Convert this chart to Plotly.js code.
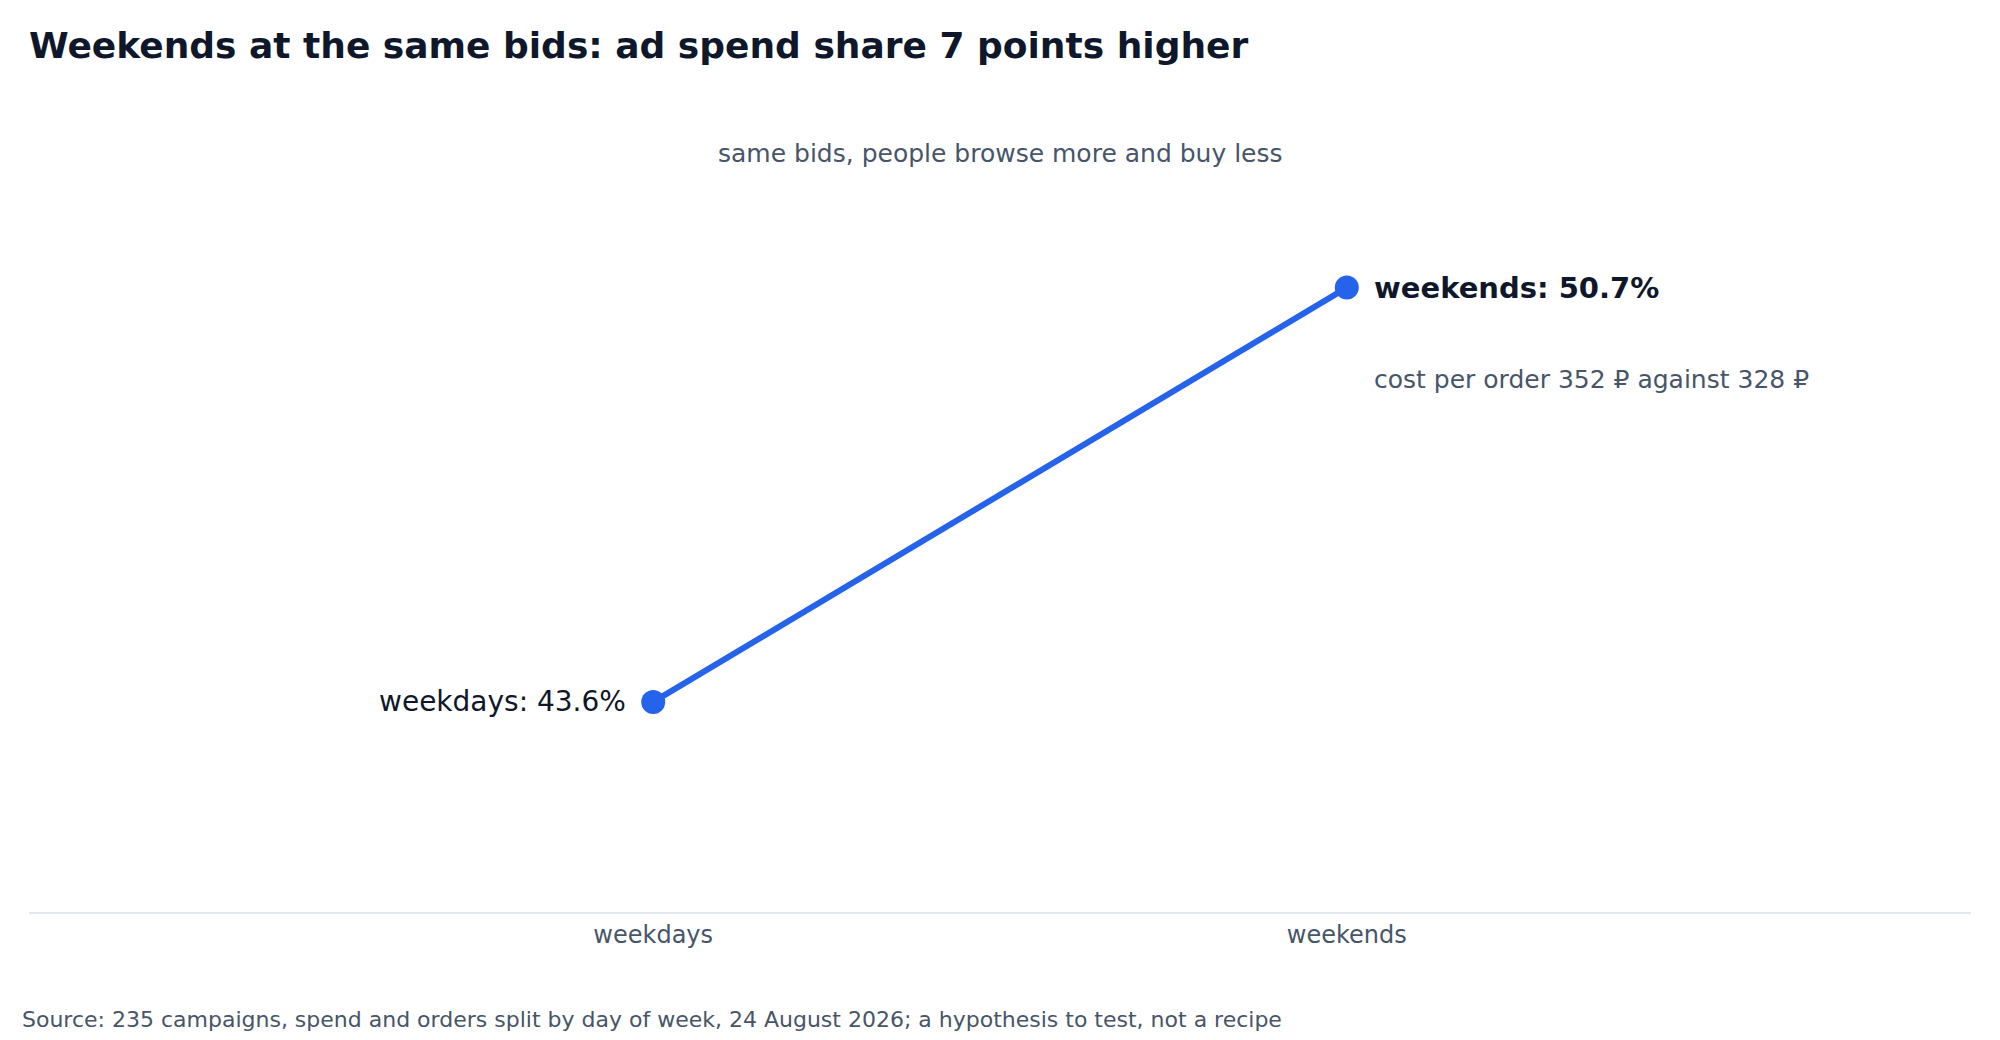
<!DOCTYPE html>
<html>
<head>
<meta charset="utf-8">
<script src="https://cdn.plot.ly/plotly-3.0.1.min.js"></script>
<style>
  html, body { margin: 0; padding: 0; background: #ffffff; }
  #chart { width: 2000px; height: 1040px; }
</style>
</head>
<body>
<div id="chart"></div>
<script>
// data
const periods = ['weekdays', 'weekends'];
const spendShare = [43.6, 50.7];
const costPerOrder = [328, 352];

const chartTitle = 'Weekends at the same bids: ad spend share 7 points higher';
const subtitle = 'same bids, people browse more and buy less';
const sourceNote = 'Source: 235 campaigns, spend and orders split by day of week, 24 August 2026; a hypothesis to test, not a recipe';

const blue = '#2563eb';
const ink = '#0f172a';
const slate = '#475569';
const font = 'DejaVu Sans, sans-serif';

const trace = {
  x: periods,
  y: spendShare,
  type: 'scatter',
  mode: 'lines+markers',
  line: { color: blue, width: 6 },
  marker: { color: blue, size: 24 },
  hoverinfo: 'skip',
  showlegend: false
};

const annotations = [
  {
    xref: 'paper', yref: 'paper', x: 0.5, y: 0.929,
    text: subtitle, showarrow: false,
    xanchor: 'center', yanchor: 'middle',
    font: { family: font, size: 25, color: slate }
  },
  {
    x: periods[0], y: spendShare[0],
    text: periods[0] + ': ' + spendShare[0].toFixed(1) + '%',
    showarrow: false, xanchor: 'right', yanchor: 'middle', xshift: -25,
    font: { family: font, size: 28, color: ink }
  },
  {
    x: periods[1], y: spendShare[1],
    text: '<b>' + periods[1] + ': ' + spendShare[1].toFixed(1) + '%</b>',
    showarrow: false, xanchor: 'left', yanchor: 'middle', xshift: 25,
    font: { family: font, size: 29, color: ink }
  },
  {
    x: periods[1], y: spendShare[1],
    text: 'cost per order ' + costPerOrder[1] + ' ₽ against ' + costPerOrder[0] + ' ₽',
    showarrow: false, xanchor: 'left', yanchor: 'middle', xshift: 25, yshift: -92,
    font: { family: font, size: 25, color: slate }
  },
  {
    xref: 'paper', yref: 'paper', x: -0.0046, y: -0.132,
    text: sourceNote, showarrow: false,
    xanchor: 'left', yanchor: 'middle',
    font: { family: font, size: 22, color: slate }
  }
];

const layout = {
  width: 2000,
  height: 1040,
  paper_bgcolor: '#ffffff',
  plot_bgcolor: '#ffffff',
  margin: { l: 29, r: 29, t: 95, b: 128 },
  font: { family: font, color: ink },
  title: {
    text: '<b>' + chartTitle + '</b>',
    xref: 'container', yref: 'container',
    x: 0.0145, y: 0.956, xanchor: 'left', yanchor: 'middle',
    font: { family: font, size: 36, color: ink }
  },
  xaxis: {
    type: 'category',
    range: [-0.9, 1.9],
    showgrid: false,
    zeroline: false,
    showline: true,
    linecolor: '#e2e8f0',
    linewidth: 2,
    ticks: '',
    tickfont: { family: font, size: 24, color: slate },
    fixedrange: true
  },
  yaxis: {
    range: [40, 54],
    showgrid: false,
    zeroline: false,
    showline: false,
    showticklabels: false,
    fixedrange: true
  },
  annotations: annotations,
  hovermode: false
};

Plotly.newPlot('chart', [trace], layout, { displayModeBar: false, staticPlot: true });
</script>
</body>
</html>
